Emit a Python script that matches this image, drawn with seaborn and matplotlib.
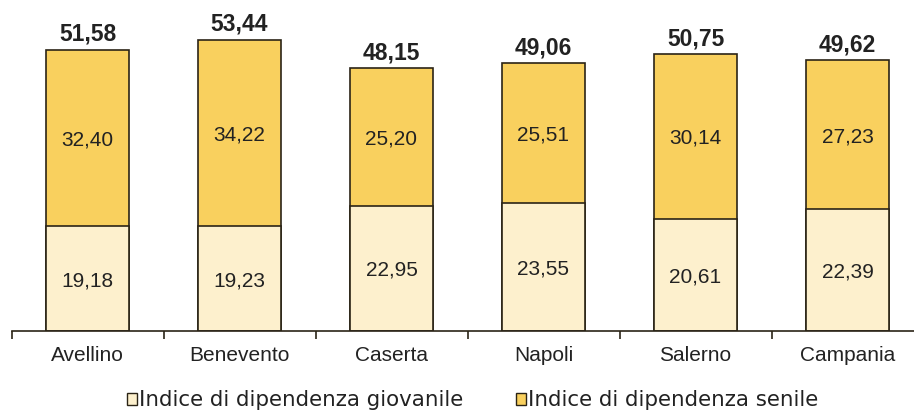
import matplotlib
matplotlib.use("Agg")
import matplotlib.pyplot as plt
import seaborn as sns
import pandas as pd
from matplotlib.patches import Patch

# Province / region names
province = ["Avellino", "Benevento", "Caserta", "Napoli", "Salerno", "Campania"]
# Youth dependency index (lower segment)
giovanile = [19.18, 19.23, 22.95, 23.55, 20.61, 22.39]
# Elderly dependency index (upper segment)
senile = [32.40, 34.22, 25.20, 25.51, 30.14, 27.23]
# Total dependency index (full bar)
totale = [51.58, 53.44, 48.15, 49.06, 50.75, 49.62]

legend_labels = ["Indice di dipendenza giovanile", "Indice di dipendenza senile"]

df = pd.DataFrame({"provincia": province, "giovanile": giovanile,
                   "senile": senile, "totale": totale})

sns.set_theme(style="white")
plt.rcParams["font.family"] = ["Liberation Sans", "DejaVu Sans"]

col_low = "#FDF0CD"
col_high = "#F9D05E"
edge = "#2B2416"
txt = "#222222"

fig = plt.figure(figsize=(9.14, 4.12), dpi=100)
ax = fig.add_axes([11.5 / 914, 81 / 412, 912 / 914, 331 / 412])

bar_w = 0.54
sns.barplot(data=df, x="provincia", y="totale", color=col_high, saturation=1,
            width=bar_w, edgecolor=edge, linewidth=1.2, ax=ax)
sns.barplot(data=df, x="provincia", y="giovanile", color=col_low, saturation=1,
            width=bar_w, edgecolor=edge, linewidth=1.2, ax=ax)

ax.set_xlim(-0.5, 5.5)
ax.set_ylim(0, 60.7)

for i in range(len(province)):
    ax.text(i, giovanile[i] / 2, f"{giovanile[i]:.2f}".replace(".", ","),
            ha="center", va="center_baseline", fontsize=15, color=txt)
    ax.text(i, giovanile[i] + senile[i] / 2, f"{senile[i]:.2f}".replace(".", ","),
            ha="center", va="center_baseline", fontsize=15, color=txt)
    ax.annotate(f"{totale[i]:.2f}".replace(".", ","), (i, totale[i]),
                xytext=(0, 3), textcoords="offset points",
                ha="center", va="bottom", fontsize=16.5, fontweight="bold",
                color=txt)

for s in ["top", "right", "left"]:
    ax.spines[s].set_visible(False)
ax.spines["bottom"].set_color(edge)
ax.spines["bottom"].set_linewidth(1.2)

ax.set_yticks([])
ax.set_xlabel("")
ax.set_ylabel("")
ax.set_xticks(range(len(province)), province)
ax.set_xticks([i - 0.5 for i in range(len(province) + 1)], minor=True)
ax.tick_params(axis="x", which="major", length=0, pad=11, labelsize=15,
               labelcolor=txt)
ax.tick_params(axis="x", which="minor", length=6, width=1.2, color=edge,
               direction="out", bottom=True)

handles = [Patch(facecolor=col_low, edgecolor=edge, linewidth=1.0),
           Patch(facecolor=col_high, edgecolor=edge, linewidth=1.0)]
fig.legend(handles, legend_labels, loc="center", bbox_to_anchor=(0.517, 0.028),
           ncol=2, frameon=False, handlelength=0.45, handleheight=0.45,
           handletextpad=0.08, columnspacing=2.5, labelcolor=txt,
           prop={"family": ["DejaVu Sans"], "size": 15.4})

fig.savefig("out.png", dpi=100)
